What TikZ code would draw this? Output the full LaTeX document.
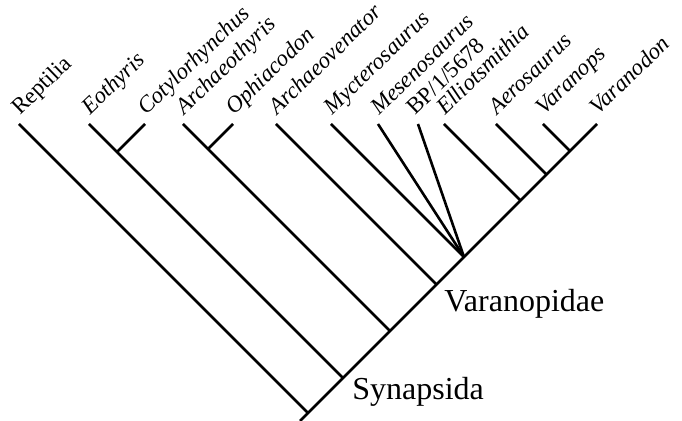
\documentclass[tikz,border=0pt]{standalone}
\usepackage{fontspec}
\setmainfont{Liberation Serif}
\usetikzlibrary{positioning,calc}

\tikzset{
  branch/.style={line width=1.3pt},
  taxon/.style={anchor=base west, inner sep=0pt, rotate=44, font=\fontsize{11.5}{13}\selectfont\itshape},
  plain/.style={font=\fontsize{11.5}{13}\selectfont\upshape},
  clade/.style={anchor=base west, inner sep=0pt, font=\fontsize{16}{19}\selectfont},
}

\begin{document}
\begin{tikzpicture}[x=0.5pt, y=-0.5pt]
    \useasboundingbox (0,0) rectangle (682,421);

    % tips
    \coordinate (reptilia) at (19,124);
    \coordinate (eothyris) at (89,124);
    \coordinate (cotylo) at (145,124);
    \coordinate (archaeothyris) at (183,124);
    \coordinate (ophiacodon) at (233,124);
    \coordinate (archaeovenator) at (276,124);
    \coordinate (mycterosaurus) at (331,124);
    \coordinate (mesenosaurus) at (378,124);
    \coordinate (bp) at (418,124);
    \coordinate (elliotsmithia) at (444,124);
    \coordinate (aerosaurus) at (496,124);
    \coordinate (varanops) at (543,124);
    \coordinate (varanodon) at (597,124);

    % internal nodes
    \coordinate (root) at (300,421);
    \coordinate (synapsid) at (308,413);
    \coordinate (caseasaur) at (117,152);
    \coordinate (n1) at (343,378);
    \coordinate (ophia) at (208,149);
    \coordinate (n2) at (390,331);
    \coordinate (n3) at (436.5,284.5);
    \coordinate (varanop) at (464,257);
    \coordinate (n4) at (520.5,200.5);
    \coordinate (n5) at (546.5,174.5);
    \coordinate (n6) at (570,151);

    % branches
    \draw[branch] (root) -- (varanodon);
    \draw[branch] (reptilia) -- (synapsid);
    \draw[branch] (eothyris) -- (n1);
    \draw[branch] (cotylo) -- (caseasaur);
    \draw[branch] (archaeothyris) -- (n2);
    \draw[branch] (ophiacodon) -- (ophia);
    \draw[branch] (archaeovenator) -- (n3);
    \draw[branch] (mycterosaurus) -- (varanop);
    \draw[branch] (mesenosaurus) -- (varanop);
    \draw[branch] (bp) -- (varanop);
    \draw[branch] (elliotsmithia) -- (n4);
    \draw[branch] (aerosaurus) -- (n5);
    \draw[branch] (varanops) -- (n6);

    % labels
    \node[taxon, plain] (lreptilia) at ($(reptilia)+(1,-8)$) {Reptilia};
    \node[taxon] (leothyris) at ($(eothyris)+(1,-8)$) {Eothyris};
    \node[taxon] (lcotylo) at ($(cotylo)+(1,-8)$) {Cotylorhynchus};
    \node[taxon] (larchaeothyris) at ($(archaeothyris)+(1,-8)$) {Archaeothyris};
    \node[taxon] (lophiacodon) at ($(ophiacodon)+(1,-8)$) {Ophiacodon};
    \node[taxon] (larchaeovenator) at ($(archaeovenator)+(1,-8)$) {Archaeovenator};
    \node[taxon] (lmycterosaurus) at ($(mycterosaurus)+(1,-8)$) {Mycterosaurus};
    \node[taxon] (lmesenosaurus) at ($(mesenosaurus)+(1,-8)$) {Mesenosaurus};
    \node[taxon, plain] (lbp) at ($(bp)+(-3,-8)$) {BP/1/5678};
    \node[taxon] (lelliotsmithia) at ($(elliotsmithia)+(1,-8)$) {Elliotsmithia};
    \node[taxon] (laerosaurus) at ($(aerosaurus)+(1,-8)$) {Aerosaurus};
    \node[taxon] (lvaranops) at ($(varanops)+(1,-8)$) {Varanops};
    \node[taxon] (lvaranodon) at ($(varanodon)+(1,-8)$) {Varanodon};

    \node[clade] (lsynapsida) at (352,400) {Synapsida};
    \node[clade] (lvaranopidae) at (444,312) {Varanopidae};
\end{tikzpicture}
\end{document}
